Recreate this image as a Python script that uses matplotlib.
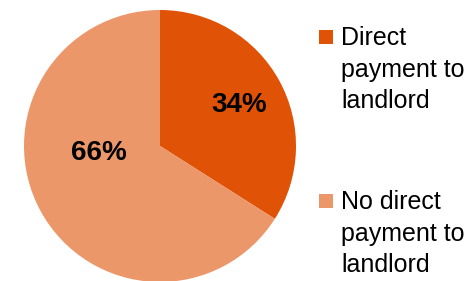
import matplotlib
matplotlib.use("Agg")
import matplotlib.pyplot as plt
from matplotlib.patches import Rectangle

labels = ["Direct\npayment to\nlandlord", "No direct\npayment to\nlandlord"]
values = [34, 66]
colors = ["#E05206", "#EC976A"]

W, H = 473, 281
fig = plt.figure(figsize=(W / 100, H / 100), dpi=100)
fig.patch.set_facecolor("white")

cx, cy, r = 160, 146, 136
ax = fig.add_axes([(cx - r) / W, (H - cy - r) / H, 2 * r / W, 2 * r / H])

wedges, texts, autotexts = ax.pie(values, colors=colors, startangle=90, counterclock=False,
                                  radius=1, autopct="%d%%", pctdistance=0.65,
                                  textprops=dict(fontfamily="Liberation Sans", fontweight="bold",
                                                 fontsize=20, color="black"),
                                  wedgeprops=dict(linewidth=0))
ax.set_xlim(-1, 1)
ax.set_ylim(-1, 1)
ax.axis("off")
label_pos = [(0.58, 0.30), (-0.45, -0.05)]
for t, p in zip(autotexts, label_pos):
    t.set_position(p)
    t.set_ha("center")
    t.set_va("center")

# legend
sq_tops = [30, 193.5]
first_baselines = [45, 209]
line_step = 31.5
for lab, col, st, fb in zip(labels, colors, sq_tops, first_baselines):
    fig.patches.append(Rectangle((319 / W, 1 - (st + 14) / H), 14 / W, 14 / H,
                                 transform=fig.transFigure, facecolor=col, edgecolor="none"))
    for i, line in enumerate(lab.split("\n")):
        fig.text(341 / W, 1 - (fb + i * line_step) / H, line, fontfamily="Liberation Sans",
                 fontsize=18, ha="left", va="baseline", color="black")

fig.savefig("out.png", dpi=100, facecolor="white")
